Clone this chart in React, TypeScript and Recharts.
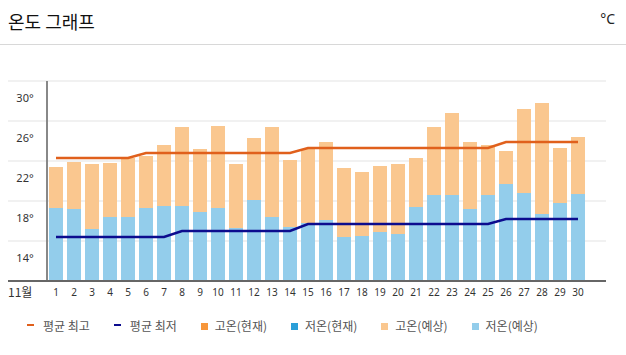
import React from "react";
import {
  ComposedChart,
  Bar,
  Line,
  XAxis,
  YAxis,
  CartesianGrid,
  ReferenceLine,
} from "recharts";

// November, day by day
const DAYS = [
  "1", "2", "3", "4", "5", "6", "7", "8", "9", "10",
  "11", "12", "13", "14", "15", "16", "17", "18", "19", "20",
  "21", "22", "23", "24", "25", "26", "27", "28", "29", "30",
];

// forecast high / low (°C)
const HIGH_FORECAST = [
  23.4, 23.9, 23.7, 23.8, 24.3, 24.5, 25.6, 27.4, 25.2, 27.5,
  23.7, 26.3, 27.4, 24.1, 25.2, 25.9, 23.3, 22.9, 23.5, 23.7,
  24.3, 27.4, 28.8, 25.9, 25.6, 25.0, 29.2, 29.8, 25.3, 26.4,
];
const LOW_FORECAST = [
  19.3, 19.2, 17.2, 18.4, 18.4, 19.3, 19.5, 19.5, 18.9, 19.3,
  17.3, 20.1, 18.4, 17.4, 17.8, 18.1, 16.4, 16.5, 16.9, 16.7,
  19.4, 20.6, 20.6, 19.2, 20.6, 21.7, 20.8, 18.7, 19.8, 20.7,
];

// climatological averages
const AVG_MAX = [
  24.3, 24.3, 24.3, 24.3, 24.3, 24.8, 24.8, 24.8, 24.8, 24.8,
  24.8, 24.8, 24.8, 24.8, 25.3, 25.3, 25.3, 25.3, 25.3, 25.3,
  25.3, 25.3, 25.3, 25.3, 25.3, 25.9, 25.9, 25.9, 25.9, 25.9,
];
const AVG_MIN = [
  16.4, 16.4, 16.4, 16.4, 16.4, 16.4, 16.4, 17.0, 17.0, 17.0,
  17.0, 17.0, 17.0, 17.0, 17.7, 17.7, 17.7, 17.7, 17.7, 17.7,
  17.7, 17.7, 17.7, 17.7, 17.7, 18.2, 18.2, 18.2, 18.2, 18.2,
];

const Y_TICKS = [14, 18, 22, 26, 30];
const GRID_VALUES = [16, 20, 24, 28, 32];
const Y_DOMAIN = [12, 32];
const MONTH_LABEL = "11월";
const TITLE = "온도 그래프";
const UNIT = "°C";

const COLORS = {
  avgMax: "#e0601c",
  avgMin: "#0c0c8e",
  highNow: "#f7963a",
  lowNow: "#2b9fd8",
  highForecast: "#fac78f",
  lowForecast: "#93cdeb",
};

const LEGEND_ITEMS = [
  { name: "평균 최고", color: COLORS.avgMax, kind: "line" },
  { name: "평균 최저", color: COLORS.avgMin, kind: "line" },
  { name: "고온(현재)", color: COLORS.highNow, kind: "square" },
  { name: "저온(현재)", color: COLORS.lowNow, kind: "square" },
  { name: "고온(예상)", color: COLORS.highForecast, kind: "square" },
  { name: "저온(예상)", color: COLORS.lowForecast, kind: "square" },
];

const KR_FONT = "'Noto Sans CJK KR', 'Noto Sans', sans-serif";

const data = DAYS.map((day, i) => ({
  day,
  low: LOW_FORECAST[i],
  // stacked on top of the low bar
  highPart: +(HIGH_FORECAST[i] - LOW_FORECAST[i]).toFixed(1),
  avgMax: AVG_MAX[i],
  avgMin: AVG_MIN[i],
}));

const YTick = (props: any) => {
  const { y, payload } = props;
  return (
    <text
      x={25}
      y={y - 4}
      textAnchor="middle"
      dominantBaseline="central"
      fontSize={11}
      fill="#333"
      fontFamily="'Noto Sans', sans-serif"
    >
      {payload.value}°
    </text>
  );
};

const ChartLegend = () => (
  <div
    style={{
      position: "absolute",
      left: 27,
      top: 317,
      display: "flex",
      alignItems: "center",
      fontFamily: KR_FONT,
      fontSize: 12,
      lineHeight: "18px",
      color: "#555",
    }}
  >
    {LEGEND_ITEMS.map((item) => (
      <div key={item.name} style={{ display: "flex", alignItems: "center", marginRight: 24 }}>
        <span
          style={{
            display: "inline-block",
            width: 7,
            height: item.kind === "line" ? 2 : 7,
            background: item.color,
            marginRight: item.kind === "line" ? 9 : 7,
            marginTop: item.kind === "line" ? -2 : 0,
          }}
        />
        <span>{item.name}</span>
      </div>
    ))}
  </div>
);

export default function App() {
  return (
    <div style={{ position: "relative", width: 626, height: 355, background: "#fff" }}>
      <style>{`body { margin: 0; }`}</style>

      {/* header */}
      <div
        style={{
          position: "absolute",
          left: 8,
          top: 10,
          fontFamily: KR_FONT,
          fontSize: 18,
          lineHeight: "22px",
          color: "#111",
        }}
      >
        {TITLE}
      </div>
      <div
        style={{
          position: "absolute",
          right: 11,
          top: 9,
          fontFamily: "'Noto Sans', sans-serif",
          fontSize: 14,
          lineHeight: "20px",
          color: "#222",
        }}
      >
        {UNIT}
      </div>
      <div style={{ position: "absolute", left: 0, top: 44, width: 626, height: 1, background: "#d8d8d8" }} />

      <div style={{ position: "absolute", left: 0, top: 0 }}>
        <ComposedChart
          width={626}
          height={310}
          data={data}
          margin={{ top: 81, right: 20, bottom: 9, left: 7 }}
        >
          <CartesianGrid
            vertical={false}
            horizontalValues={GRID_VALUES}
            stroke="#ececec"
            strokeWidth={1.5}
          />
          <XAxis
            dataKey="day"
            interval={0}
            height={20}
            padding={{ left: 39, right: 19 }}
            tickLine={false}
            axisLine={{ stroke: "#666", strokeWidth: 2 }}
            tick={{ fontSize: 10, fill: "#333", fontFamily: "'Noto Sans', sans-serif" }}
          />
          <YAxis
            width={1}
            domain={Y_DOMAIN}
            allowDataOverflow
            ticks={Y_TICKS}
            interval={0}
            tick={<YTick />}
            axisLine={false}
            tickLine={false}
          />
          <Bar dataKey="low" stackId="t" fill={COLORS.lowForecast} barSize={14} isAnimationActive={false} />
          <Bar dataKey="highPart" stackId="t" fill={COLORS.highForecast} barSize={14} isAnimationActive={false} />
          <ReferenceLine x="1" position="start" stroke="#888" strokeWidth={2} />
          <Line
            type="linear"
            dataKey="avgMax"
            stroke={COLORS.avgMax}
            strokeWidth={2.5}
            dot={false}
            activeDot={false}
            isAnimationActive={false}
          />
          <Line
            type="linear"
            dataKey="avgMin"
            stroke={COLORS.avgMin}
            strokeWidth={2.5}
            dot={false}
            activeDot={false}
            isAnimationActive={false}
          />
        </ComposedChart>
      </div>

      <div
        style={{
          position: "absolute",
          left: 8,
          top: 284,
          fontFamily: KR_FONT,
          fontSize: 12,
          lineHeight: "16px",
          color: "#333",
        }}
      >
        {MONTH_LABEL}
      </div>

      <ChartLegend />
    </div>
  );
}
